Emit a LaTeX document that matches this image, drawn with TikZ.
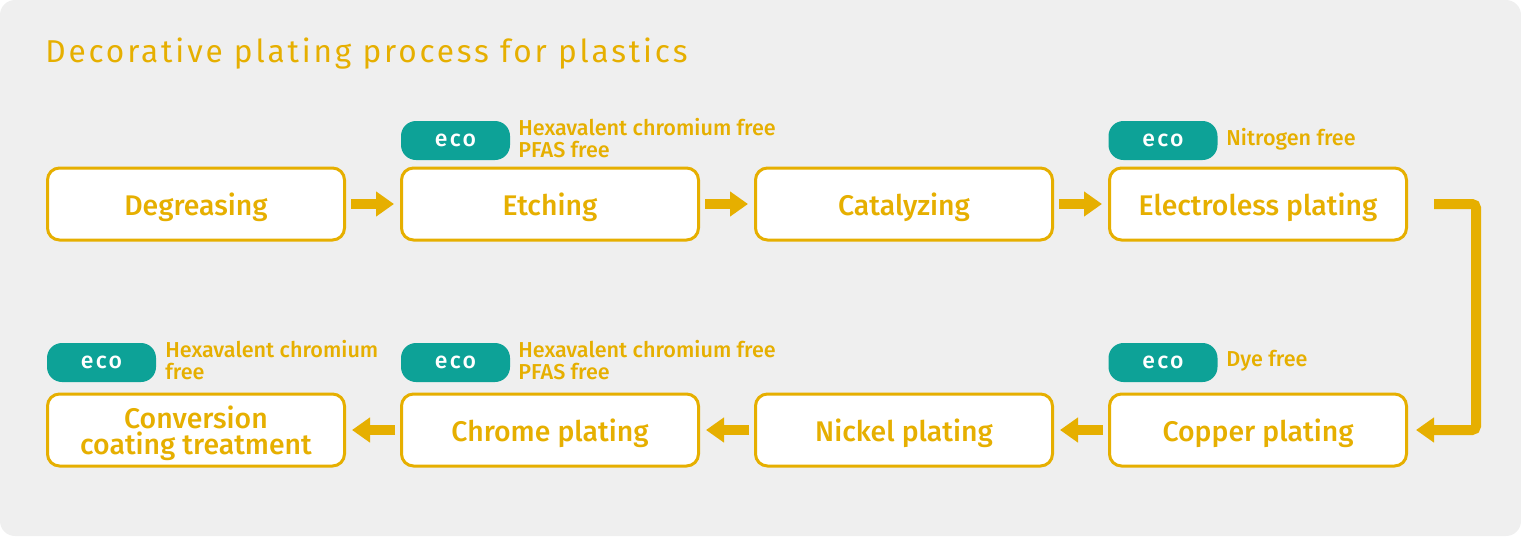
\documentclass[tikz,border=0pt]{standalone}
\usepackage{fontspec}
\setmainfont{Fira Sans}[BoldFont={Fira Sans Medium}]
\usetikzlibrary{arrows.meta}
\definecolor{PGold}{HTML}{E6AF00}
\definecolor{ETeal}{HTML}{0DA297}
\definecolor{BGrey}{HTML}{EFEFEF}
\tikzset{
    block/.style = {draw=PGold, fill=white, line width=1.5pt,
        rounded corners=6pt,
        minimum height=36pt,
        minimum width=148.5pt, align=center, text=PGold, text depth=0pt,
        font=\fontsize{14.2}{13}\selectfont\bfseries},
    eco/.style = {fill=ETeal, rounded corners=7.5pt,
        minimum height=19.5pt, minimum width=54.5pt, text=white,
        font=\fontsize{11.5}{13}\selectfont\bfseries\addfontfeature{LetterSpace=10}},
    note/.style = {anchor=west, align=left, inner sep=0pt, text=PGold,
        font=\fontsize{10.8}{11}\selectfont\bfseries},
    arrow/.style={draw=PGold, line width=5pt, -{Triangle[length=9pt,width=12pt]}}
}

\begin{document}
\begin{tikzpicture}[x=0.5pt,y=-0.5pt]
    \useasboundingbox (0,0) rectangle (1521,536);
    \fill[BGrey, rounded corners=7.5pt] (0,0) rectangle (1521,536);
    \node[anchor=base west, inner sep=0pt, text=PGold,
        font=\fontsize{15.8}{18}\selectfont\addfontfeature{LetterSpace=9}] (title) at (45,62) {Decorative plating process for plastics};
    % first row
    \node[block] (de) at (196,204) {Degreasing};
    \node[block] (et) at (550,204) {Etching};
    \node[block] (ca) at (904,204) {Catalyzing};
    \node[block] (el) at (1258,204) {Electroless plating};
    % second row
    \node[block] (cv) at (196,430) {Conversion\\coating treatment};
    \node[block] (cr) at (550,430) {Chrome plating};
    \node[block] (ni) at (904,430) {Nickel plating};
    \node[block] (cu) at (1258,430) {Copper plating};
    % eco marks
    \node[eco] (eco1) at (455.5,140.5) {eco};
    \node[note] (n1) at (518,138) {Hexavalent chromium free\\PFAS free};
    \node[eco] (eco2) at (1163,140.5) {eco};
    \node[note] (n2) at (1226,139) {Nitrogen free};
    \node[eco] (eco3) at (101.5,362.5) {eco};
    \node[note] (n3) at (165,360) {Hexavalent chromium\\free};
    \node[eco] (eco4) at (455.5,362.5) {eco};
    \node[note] (n4) at (518,360) {Hexavalent chromium free\\PFAS free};
    \node[eco] (eco5) at (1163,362.5) {eco};
    \node[note] (n5) at (1226,361) {Dye free};
    % arrows
    \draw[arrow] ([xshift=2.5pt]de.east) -- ([xshift=-3pt]et.west);
    \draw[arrow] ([xshift=2.5pt]et.east) -- ([xshift=-3pt]ca.west);
    \draw[arrow] ([xshift=2.5pt]ca.east) -- ([xshift=-3pt]el.west);
    \draw[arrow, rounded corners=2pt] ([xshift=13pt]el.east) -- ++(21pt,0) |- ([xshift=4pt]cu.east);
    \draw[arrow] ([xshift=-2.5pt]cu.west) -- ([xshift=3pt]ni.east);
    \draw[arrow] ([xshift=-2.5pt]ni.west) -- ([xshift=3pt]cr.east);
    \draw[arrow] ([xshift=-2.5pt]cr.west) -- ([xshift=3pt]cv.east);
\end{tikzpicture}
\end{document}
